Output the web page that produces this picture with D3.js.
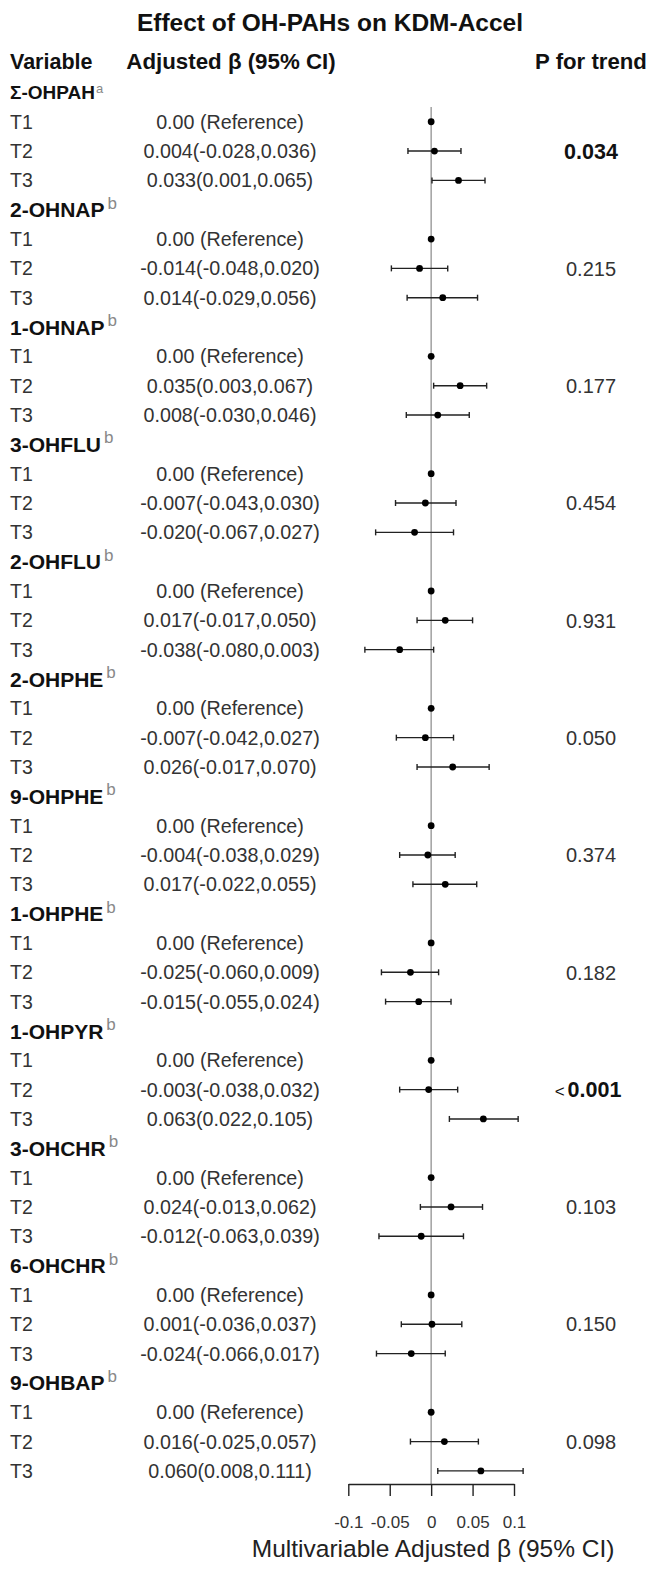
<!DOCTYPE html>
<html>
<head>
<meta charset="utf-8">
<script src="https://cdn.jsdelivr.net/npm/d3@7"></script>
<style>
  html, body { margin: 0; padding: 0; background: #fff; }
  svg { display: block; font-family: "Liberation Sans", Arial, sans-serif; }
</style>
</head>
<body>
<svg id="chart" width="662" height="1574"></svg>
<script>
// ---------------- data ----------------
const groups = ["Σ-OHPAH", "2-OHNAP", "1-OHNAP", "3-OHFLU", "2-OHFLU", "2-OHPHE",
                "9-OHPHE", "1-OHPHE", "1-OHPYR", "3-OHCHR", "6-OHCHR", "9-OHBAP"];
const groupSup = ["a", "b", "b", "b", "b", "b", "b", "b", "b", "b", "b", "b"];
const tertiles = ["T1", "T2", "T3"];
const est = [
  [0, 0.004, 0.033], [0, -0.014, 0.014], [0, 0.035, 0.008], [0, -0.007, -0.020],
  [0, 0.017, -0.038], [0, -0.007, 0.026], [0, -0.004, 0.017], [0, -0.025, -0.015],
  [0, -0.003, 0.063], [0, 0.024, -0.012], [0, 0.001, -0.024], [0, 0.016, 0.060]
];
const lower = [
  [0, -0.028, 0.001], [0, -0.048, -0.029], [0, 0.003, -0.030], [0, -0.043, -0.067],
  [0, -0.017, -0.080], [0, -0.042, -0.017], [0, -0.038, -0.022], [0, -0.060, -0.055],
  [0, -0.038, 0.022], [0, -0.013, -0.063], [0, -0.036, -0.066], [0, -0.025, 0.008]
];
const upper = [
  [0, 0.036, 0.065], [0, 0.020, 0.056], [0, 0.067, 0.046], [0, 0.030, 0.027],
  [0, 0.050, 0.003], [0, 0.027, 0.070], [0, 0.029, 0.055], [0, 0.009, 0.024],
  [0, 0.032, 0.105], [0, 0.062, 0.039], [0, 0.037, 0.017], [0, 0.057, 0.111]
];
const pTrend = ["0.034", "0.215", "0.177", "0.454", "0.931", "0.050",
                "0.374", "0.182", "<0.001", "0.103", "0.150", "0.098"];
const pBold = [true, false, false, false, false, false, false, false, true, false, false, false];
const tickValues = [-0.1, -0.05, 0, 0.05, 0.1];
const tickLabels = ["-0.1", "-0.05", "0", "0.05", "0.1"];
const title = "Effect of OH-PAHs on KDM-Accel";
const xLabel = "Multivariable Adjusted β (95% CI)";
const refText = "0.00 (Reference)";

// ---------------- layout ----------------
const svg = d3.select("#chart");
const nRows = groups.length * 4;
const y = d3.scaleLinear().domain([0, nRows - 1]).range([92.4, 92.4 + (nRows - 1) * 29.33]);
const x = d3.scaleLinear().domain([-0.1, 0.1]).range([348.3, 514]);
const axisY = 1484;
const colEst = 230, colP = 591, colLab = 10;
const f3 = d3.format(".3f");
const fmt = v => f3(v).replace("\u2212", "-");
const txt = "#333";

// title
svg.append("text").attr("x", 330).attr("y", 31).attr("text-anchor", "middle")
  .attr("font-size", 24.5).attr("font-weight", "bold").attr("fill", "#111").text(title);

// header
const hdrY = 69;
svg.append("text").attr("x", colLab).attr("y", hdrY).attr("font-size", 21.5)
  .attr("font-weight", "bold").attr("fill", "#111").text("Variable");
svg.append("text").attr("x", colEst + 1).attr("y", hdrY).attr("text-anchor", "middle")
  .attr("font-size", 22.3).attr("font-weight", "bold").attr("fill", "#111").text("Adjusted β (95% CI)");
svg.append("text").attr("x", colP).attr("y", hdrY).attr("text-anchor", "middle")
  .attr("font-size", 22.2).attr("font-weight", "bold").attr("fill", "#111").text("P for trend");

// reference line
svg.append("line").attr("x1", x(0)).attr("x2", x(0))
  .attr("y1", y(0.5)).attr("y2", axisY)
  .attr("stroke", "#999").attr("stroke-width", 1.4);

groups.forEach((g, gi) => {
  const r0 = gi * 4;
  // group label
  const gs = gi === 0 ? 19 : 21;
  const lab = svg.append("text").attr("x", colLab).attr("y", y(r0)).attr("dy", "0.36em")
    .attr("font-size", gs).attr("font-weight", "bold").attr("fill", "#111");
  lab.append("tspan").text(g);
  lab.append("tspan").attr("dx", gi === 0 ? 1 : 3).attr("dy", gi === 0 ? "-0.45em" : "-0.5em")
    .attr("font-size", gi === 0 ? 13 : 17).attr("font-weight", "normal").attr("fill", "#888")
    .text(groupSup[gi]);

  tertiles.forEach((t, ti) => {
    const r = r0 + 1 + ti;
    svg.append("text").attr("x", colLab).attr("y", y(r)).attr("dy", "0.36em")
      .attr("font-size", 19.5).attr("fill", txt).text(t);
    const s = ti === 0 ? refText
      : `${fmt(est[gi][ti])}(${fmt(lower[gi][ti])},${fmt(upper[gi][ti])})`;
    svg.append("text").attr("x", colEst).attr("y", y(r)).attr("dy", "0.36em")
      .attr("text-anchor", "middle").attr("font-size", 19.7).attr("fill", txt).text(s);

    // CI
    if (ti > 0) {
      const cy = y(r);
      svg.append("line").attr("x1", x(lower[gi][ti])).attr("x2", x(upper[gi][ti]))
        .attr("y1", cy).attr("y2", cy).attr("stroke", "#222").attr("stroke-width", 1.4);
      [lower[gi][ti], upper[gi][ti]].forEach(v => {
        svg.append("line").attr("x1", x(v)).attr("x2", x(v))
          .attr("y1", cy - 3).attr("y2", cy + 3).attr("stroke", "#222").attr("stroke-width", 1.4);
      });
    }
    svg.append("circle").attr("cx", x(est[gi][ti])).attr("cy", y(r)).attr("r", 3.4).attr("fill", "#000");
  });

  // p for trend
  const pt = svg.append("text").attr("x", colP).attr("y", y(r0 + 2)).attr("dy", "0.36em")
    .attr("text-anchor", "middle").attr("font-size", pBold[gi] ? 21.5 : 20)
    .attr("font-weight", pBold[gi] ? "bold" : "normal").attr("fill", pBold[gi] ? "#111" : txt);
  const p = pTrend[gi];
  if (p.startsWith("<")) {
    pt.attr("x", colP - 3);
    pt.append("tspan").attr("font-weight", "normal").attr("font-size", 17).text("<");
    pt.append("tspan").attr("dx", 3).text(p.slice(1));
  } else {
    pt.text(p);
  }
});

// axis
const axis = d3.axisBottom(x).tickValues(tickValues)
  .tickFormat((d, i) => tickLabels[i]).tickSize(12).tickSizeOuter(0).tickPadding(20);
const ag = svg.append("g").attr("transform", `translate(0,${axisY})`).call(axis);
ag.select(".domain").attr("stroke", "#222").attr("stroke-width", 1.4);
ag.selectAll(".tick line").attr("stroke", "#222").attr("stroke-width", 1.4);
ag.selectAll(".tick text").attr("font-size", 17).attr("fill", txt)
  .attr("font-family", "Liberation Sans, Arial, sans-serif");

svg.append("text").attr("x", x(0) + 2).attr("y", 1557).attr("text-anchor", "middle")
  .attr("font-size", 24.5).attr("fill", "#222").text(xLabel);
</script>
</body>
</html>
